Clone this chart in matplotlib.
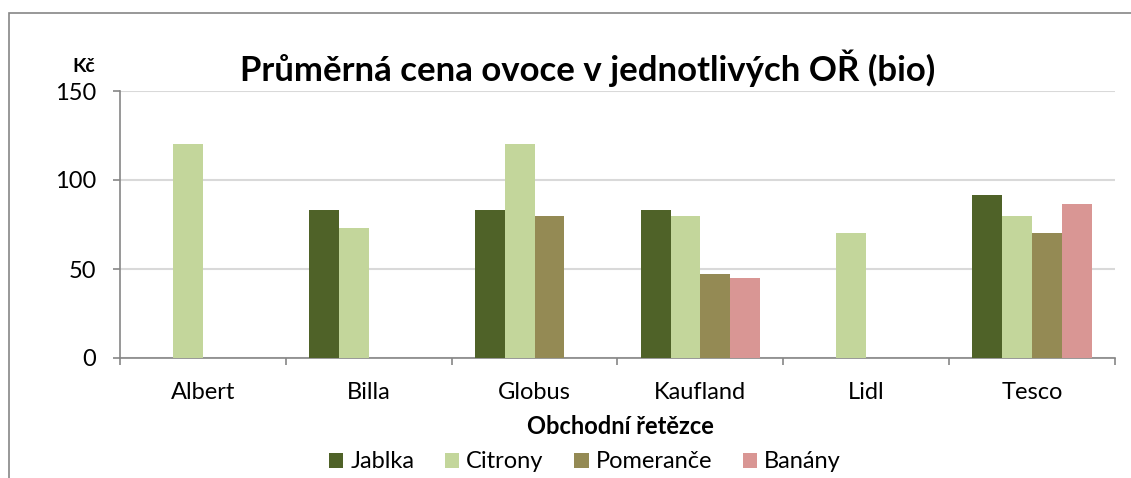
import numpy as np
import matplotlib.pyplot as plt
from matplotlib.patches import Rectangle

plt.rcParams['font.family'] = ['Lato', 'DejaVu Sans']

# data
stores = ['Albert', 'Billa', 'Globus', 'Kaufland', 'Lidl', 'Tesco']
jablka = [np.nan, 83, 83, 83, np.nan, 91.5]
citrony = [120, 73, 120, 80, 70, 80]
pomerance = [np.nan, np.nan, 80, 47, np.nan, 70]
banany = [np.nan, np.nan, np.nan, 45, np.nan, 86.5]

series = [('Jablka', jablka, '#4F6228'),
          ('Citrony', citrony, '#C3D69B'),
          ('Pomeranče', pomerance, '#948A54'),
          ('Banány', banany, '#D99694')]

fig = plt.figure(figsize=(11.31, 4.78), dpi=100)
ax = fig.add_axes([120 / 1131, 1 - 358 / 478, 995 / 1131, 267 / 478])

x = np.arange(len(stores))
w = 0.18
for j, (name, vals, col) in enumerate(series):
    ax.bar(x + (j - 1.5) * w, vals, width=w, color=col, label=name, zorder=3)

ax.set_xlim(-0.5, len(stores) - 0.5)
ax.set_ylim(0, 150)
ax.set_yticks([0, 50, 100, 150])
ax.set_xticks(x)
ax.set_xticklabels(stores)
ax.set_xticks(np.arange(-0.5, len(stores)), minor=True)
ax.tick_params(axis='x', which='major', length=0, pad=17, labelsize=17)
ax.tick_params(axis='x', which='minor', length=5, width=1.2, color='#868686')
ax.tick_params(axis='y', length=5, width=1.2, color='#868686', labelsize=17, pad=12)

ax.grid(axis='y', color='#D9D9D9', linewidth=1.5, zorder=0)
for s in ['top', 'right']:
    ax.spines[s].set_visible(False)
for s in ['left', 'bottom']:
    ax.spines[s].set_color('#868686')
    ax.spines[s].set_linewidth(1.2)

fig.text(588 / 1131, 1 - 68 / 478, 'Průměrná cena ovoce v jednotlivých OŘ (bio)',
         ha='center', va='center', fontsize=25, fontweight='bold')
fig.text(95 / 1131, 1 - 66 / 478, 'Kč', ha='right', va='center',
         fontsize=14, fontweight='bold')
fig.text(620 / 1131, 1 - 427 / 478, 'Obchodní řetězce', ha='center', va='center',
         fontsize=17, fontweight='bold')

fig.legend(loc='center', bbox_to_anchor=(585 / 1131, 1 - 462 / 478), ncol=4,
           frameon=False, fontsize=17, handlelength=0.6, handleheight=0.6,
           handletextpad=0.3, columnspacing=1.3)

fig.patches.append(Rectangle((9 / 1131, -0.2), 1.2, 0.2 + 1 - 13 / 478,
                             transform=fig.transFigure, fill=False,
                             edgecolor='#868686', linewidth=1.2))

fig.savefig('out.png', dpi=100)
